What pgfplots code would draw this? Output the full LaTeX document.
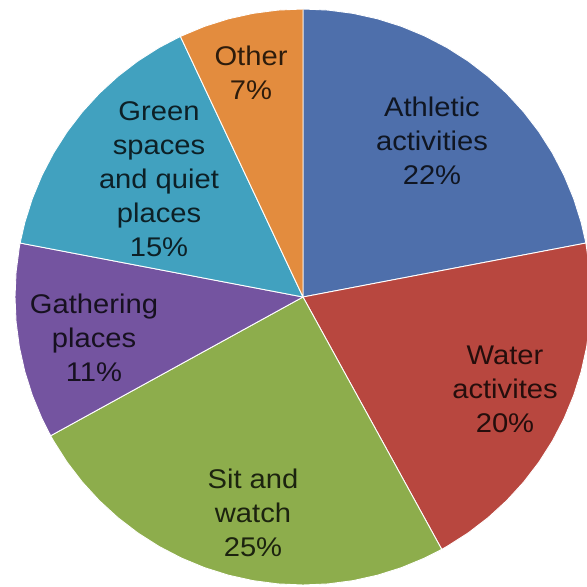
\documentclass[border=0pt]{standalone}
\usepackage{pgfplots}
\pgfplotsset{compat=1.18}
\usepackage{fontspec}
\setmainfont{Liberation Sans}
\newfontfamily\lblfont[FakeStretch=1.08]{Liberation Sans}
\definecolor{cAth}{HTML}{4E6FAB}
\definecolor{cWat}{HTML}{B8473F}
\definecolor{cSit}{HTML}{8DAD4C}
\definecolor{cGat}{HTML}{7454A0}
\definecolor{cGre}{HTML}{41A1BF}
\definecolor{cOth}{HTML}{E38C3E}
\begin{document}
\begin{tikzpicture}
% Shares (percent): Athletic 22, Water 20, Sit and watch 25, Gathering 11, Green 15, Other 7
% Slices drawn clockwise from 12 o'clock; polar data (angle in degrees, radius)
\begin{axis}[
  width=587pt, height=587pt, scale only axis,
  hide axis, clip=true,
  xmin=-303, xmax=284, ymin=-290, ymax=297,
]
\pgfplotsset{every axis plot/.append style={draw=white, line width=0.9pt, data cs=polar}}
% Athletic activities 22% : 90 -> 10.8
\addplot[fill=cAth] coordinates {(0,0) (90,288) (85,288) (80,288) (75,288) (70,288) (65,288) (60,288) (55,288) (50,288) (45,288) (40,288) (35,288) (30,288) (25,288) (20,288) (15,288) (10.8,288)} -- cycle;
% Water activites 20% : 10.8 -> -61.2
\addplot[fill=cWat] coordinates {(0,0) (10.8,288) (5,288) (0,288) (-5,288) (-10,288) (-15,288) (-20,288) (-25,288) (-30,288) (-35,288) (-40,288) (-45,288) (-50,288) (-55,288) (-60,288) (-61.2,288)} -- cycle;
% Sit and watch 25% : -61.2 -> -151.2
\addplot[fill=cSit] coordinates {(0,0) (-61.2,288) (-65,288) (-70,288) (-75,288) (-80,288) (-85,288) (-90,288) (-95,288) (-100,288) (-105,288) (-110,288) (-115,288) (-120,288) (-125,288) (-130,288) (-135,288) (-140,288) (-145,288) (-150,288) (-151.2,288)} -- cycle;
% Gathering places 11% : -151.2 -> -190.8
\addplot[fill=cGat] coordinates {(0,0) (-151.2,288) (-155,288) (-160,288) (-165,288) (-170,288) (-175,288) (-180,288) (-185,288) (-190,288) (-190.8,288)} -- cycle;
% Green spaces and quiet places 15% : -190.8 -> -244.8
\addplot[fill=cGre] coordinates {(0,0) (-190.8,288) (-195,288) (-200,288) (-205,288) (-210,288) (-215,288) (-220,288) (-225,288) (-230,288) (-235,288) (-240,288) (-244.8,288)} -- cycle;
% Other 7% : -244.8 -> -270
\addplot[fill=cOth] coordinates {(0,0) (-244.8,288) (-250,288) (-255,288) (-260,288) (-265,288) (-270,288)} -- cycle;

\begin{scope}[every node/.style={align=center, font=\lblfont\fontsize{27}{34}\selectfont}]
\node[text=black!80!cAth] at (axis cs:129,156) {Athletic\\activities\\22\%};
\node[text=black!80!cWat] at (axis cs:202,-92) {Water\\activites\\20\%};
\node[text=black!80!cSit] at (axis cs:-50,-216) {Sit and\\watch\\25\%};
\node[text=black!80!cGat] at (axis cs:-209,-41) {Gathering\\places\\11\%};
\node[text=black!80!cGre] at (axis cs:-144,118) {Green\\spaces\\and quiet\\places\\15\%};
\node[text=black!80!cOth] at (axis cs:-52,224) {Other\\7\%};
\end{scope}
\end{axis}
\pgfresetboundingbox
\useasboundingbox (current axis.south west) rectangle (current axis.north east);
\end{tikzpicture}
\end{document}
